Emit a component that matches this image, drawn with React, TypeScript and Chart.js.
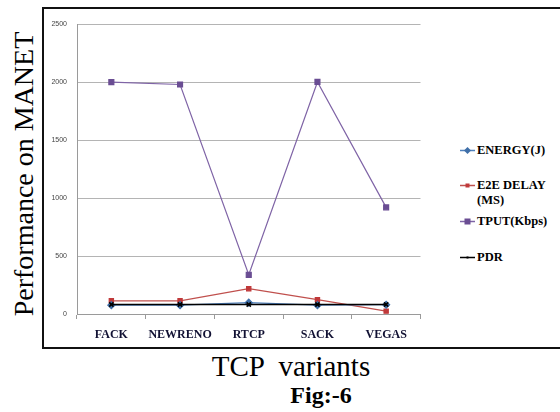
import React, { useEffect, useRef } from "react";
import { Chart, registerables } from "chart.js";

Chart.register(...registerables);

const categories = ["FACK", "NEWRENO", "RTCP", "SACK", "VEGAS"];
const energy = [76, 76, 98, 76, 80];
const e2eDelay = [114, 114, 218, 124, 25];
const tput = [2000, 1980, 338, 2002, 920];
const pdr = [82, 82, 82, 82, 82];
const yTicks = [0, 500, 1000, 1500, 2000, 2500];

const seriesNames = ["ENERGY(J)", "E2E DELAY\n(MS)", "TPUT(Kbps)", "PDR"];
const seriesColors = ["#4f81bd", "#c0504d", "#7f64a6", "#000000"];
const markerColors = ["#3f6fa8", "#c0393a", "#6a4d93", "#000000"];

const SERIF = "Liberation Serif";

function LegendItem({ idx, top }: { idx: number; top: number }) {
  const c = seriesColors[idx];
  const m = markerColors[idx];
  const lines = seriesNames[idx].split("\n");
  let marker: React.ReactNode = null;
  if (idx === 0) marker = <polygon points="7.5,1 11,4.5 7.5,8 4,4.5" fill={m} />;
  if (idx === 1) marker = <rect x="5.5" y="2.5" width="4" height="4" fill={m} />;
  if (idx === 2) marker = <rect x="4.5" y="1.5" width="6" height="6" fill={m} />;
  if (idx === 3) marker = <rect x="6.5" y="3.5" width="2" height="2" fill={m} />;
  return (
    <div style={{ position: "absolute", left: 460, top, display: "flex", alignItems: "flex-start" }}>
      <svg width="16" height="9" style={{ marginTop: 3, flex: "none" }}>
        <line x1="0" y1="4.5" x2="15" y2="4.5" stroke={c} strokeWidth="1.5" />
        {marker}
      </svg>
      <div
        style={{
          marginLeft: 1,
          fontFamily: SERIF,
          fontWeight: "bold",
          fontSize: 12.5,
          lineHeight: "15px",
          color: "#000",
          whiteSpace: "pre",
        }}
      >
        {lines.join("\n")}
      </div>
    </div>
  );
}

export default function App() {
  const ref = useRef<HTMLCanvasElement | null>(null);

  useEffect(() => {
    if (!ref.current) return;
    const mk = (i: number, data: number[], style: any, radius: number) => ({
      label: seriesNames[i].replace("\n", " "),
      data,
      borderColor: seriesColors[i],
      backgroundColor: markerColors[i],
      pointBackgroundColor: markerColors[i],
      pointBorderColor: markerColors[i],
      pointStyle: style,
      pointRadius: radius,
      borderWidth: i === 3 ? 1.5 : 1.2,
      tension: 0,
    });
    const xFit = { h: 32 };
    const chart: any = new Chart(ref.current, {
      type: "line",
      data: {
        labels: categories,
        datasets: [
          mk(3, pdr, "crossRot", 3),
          mk(0, energy, "rectRot", 3.5),
          mk(1, e2eDelay, "rect", 3),
          mk(2, tput, "rect", 3.5),
        ],
      },
      options: {
        responsive: false,
        animation: false,
        layout: { padding: { top: 4, right: 0, left: 0, bottom: 0 } },
        plugins: { legend: { display: false }, tooltip: { enabled: false } },
        scales: {
          x: {
            offset: true,
            grid: {
              offset: true,
              drawOnChartArea: false,
              drawTicks: true,
              tickLength: 5,
              color: "#9a9a9a",
            },
            border: { color: "#9a9a9a", width: 1 },
            ticks: {
              padding: 9,
              maxRotation: 0,
              minRotation: 0,
              autoSkip: false,
              color: "#111133",
              font: { family: "'Liberation Serif'", weight: "bold", size: 12 },
            },
            afterFit: (s: any) => {
              s.height = xFit.h;
            },
          },
          y: {
            min: 0,
            max: 2500,
            afterBuildTicks: (s: any) => {
              s.ticks = yTicks.map((v) => ({ value: v }));
            },
            grid: { color: "#b4b4b4", drawTicks: false },
            border: { color: "#9a9a9a", width: 1 },
            ticks: {
              padding: 10,
              color: "#444444",
              font: { family: "'Liberation Sans'", size: 7 },
              callback: (v: any) => String(v),
            },
            afterFit: (s: any) => {
              s.width = 32;
            },
          },
        },
      },
    });
    // Align plot area: top (2500) at canvas y=8, bottom (0) at canvas y=304
    for (let k = 0; k < 3; k++) {
      const ca = chart.chartArea;
      const dt = 8 - ca.top;
      const db = ca.bottom - 304;
      if (Math.abs(dt) < 0.5 && Math.abs(db) < 0.5) break;
      chart.options.layout.padding.top = Math.max(0, chart.options.layout.padding.top + dt);
      xFit.h = xFit.h + db;
      chart.update();
    }
    return () => chart.destroy();
  }, []);

  return (
    <div
      style={{
        position: "fixed",
        left: 0,
        top: 0,
        width: 560,
        height: 412,
        overflow: "hidden",
        background: "#fff",
      }}
    >
      <div
        style={{
          position: "absolute",
          left: 42,
          top: 7,
          width: 600,
          height: 342,
          border: "2px solid #111",
          boxSizing: "border-box",
        }}
      />
      <canvas
        ref={ref}
        width={381}
        height={336}
        style={{ position: "absolute", left: 45, top: 10, width: 381, height: 336 }}
      />
      <LegendItem idx={0} top={143} />
      <LegendItem idx={1} top={178} />
      <LegendItem idx={2} top={214} />
      <LegendItem idx={3} top={250} />
      <div
        style={{
          position: "absolute",
          left: 24 - 150,
          top: 174 - 17,
          width: 300,
          height: 34,
          lineHeight: "34px",
          textAlign: "center",
          transform: "rotate(-90deg)",
          fontFamily: SERIF,
          fontSize: 28,
          whiteSpace: "nowrap",
          color: "#000",
        }}
      >
        Performance on MANET
      </div>
      <div
        style={{
          position: "absolute",
          left: 291 - 150,
          top: 349,
          width: 300,
          height: 34,
          lineHeight: "34px",
          textAlign: "center",
          fontFamily: SERIF,
          fontSize: 29,
          whiteSpace: "pre",
          color: "#000",
        }}
      >
        TCP  variants
      </div>
      <div
        style={{
          position: "absolute",
          left: 321 - 60,
          top: 381,
          width: 120,
          height: 28,
          lineHeight: "28px",
          textAlign: "center",
          fontFamily: SERIF,
          fontWeight: "bold",
          fontSize: 24,
          whiteSpace: "nowrap",
          color: "#000",
        }}
      >
        Fig:-6
      </div>
    </div>
  );
}
